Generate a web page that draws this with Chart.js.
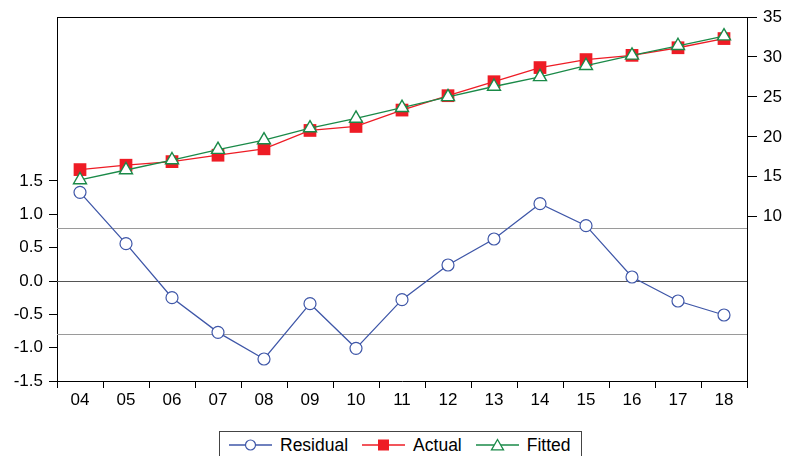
<!DOCTYPE html>
<html>
<head>
<meta charset="utf-8">
<script src="https://cdn.jsdelivr.net/npm/chart.js@4.4.1/dist/chart.umd.min.js"></script>
<style>
  html, body { margin: 0; padding: 0; background: #fff; }
  #contenedor { position: relative; width: 788px; height: 456px; overflow: hidden; }
  #leyenda {
    position: absolute; left: 219px; top: 431px; height: 28px;
    box-sizing: border-box; border: 1px solid #444; background: #fff;
    display: flex; align-items: center; padding: 0 10px 0 9px;
    font: 17.5px 'Liberation Sans', Arial, sans-serif; color: #000;
  }
  #leyenda .item { display: flex; align-items: center; margin-right: 14px; }
  #leyenda .item:last-child { margin-right: 0; }
  #leyenda svg { margin-right: 8px; }
</style>
</head>
<body>
<div id="contenedor">
  <canvas id="grafico-residuos" width="788" height="456"></canvas>
  <div id="leyenda"></div>
</div>
<script>
// Datos
const years = ['04', '05', '06', '07', '08', '09', '10', '11', '12', '13', '14', '15', '16', '17', '18'];
const residual = [1.33, 0.56, -0.25, -0.77, -1.17, -0.34, -1.01, -0.28, 0.24, 0.63, 1.16, 0.83, 0.06, -0.30, -0.51];
const actual = [15.9, 16.45, 16.9, 17.7, 18.5, 20.8, 21.3, 23.35, 25.15, 26.9, 28.67, 29.67, 30.2, 31.15, 32.3];
const fitted = [14.6, 15.85, 17.1, 18.4, 19.6, 21.1, 22.3, 23.65, 25.0, 26.3, 27.5, 28.9, 30.2, 31.4, 32.6];
const leftTicks = [-1.5, -1.0, -0.5, 0.0, 0.5, 1.0, 1.5];
const rightTicks = [10, 15, 20, 25, 30, 35];
const bandLines = [0.79, -0.79];
const zeroLine = 0;

const FUENTE = "'Liberation Sans', Arial, sans-serif";
const AZUL = '#3f57a8';
const ROJO = '#ee1c25';
const VERDE = '#1a8a48';

/**
 * Dibuja las líneas de referencia y el marco superior
 */
const marcoYLineas = {
  id: 'marcoYLineas',
  beforeDatasetsDraw(chart) {
    const { ctx, chartArea: a, scales } = chart;
    const linea = (valor, color) => {
      const y = Math.round(scales.yRes.getPixelForValue(valor)) + 0.5;
      ctx.strokeStyle = color;
      ctx.beginPath();
      ctx.moveTo(a.left, y);
      ctx.lineTo(a.right, y);
      ctx.stroke();
    };
    ctx.save();
    ctx.lineWidth = 1;
    bandLines.forEach(v => linea(v, '#9a9a9a'));
    linea(zeroLine, '#555555');
    ctx.restore();
  },
  afterDraw(chart) {
    const { ctx, chartArea: a } = chart;
    ctx.save();
    ctx.strokeStyle = '#000';
    ctx.lineWidth = 1;
    ctx.beginPath();
    ctx.moveTo(a.left, Math.round(a.top) + 0.5);
    ctx.lineTo(a.right, Math.round(a.top) + 0.5);
    ctx.stroke();
    ctx.restore();
  }
};

/**
 * Genera la leyenda en HTML a partir de los datasets
 * @param {Array} datasets - Series del gráfico
 */
function generarLeyenda(datasets) {
  const cont = document.getElementById('leyenda');
  const iconos = {
    circle: c => `<circle cx="21.5" cy="7" r="5" fill="#fff" stroke="${c}" stroke-width="1.2"/>`,
    rect: c => `<rect x="16" y="1.5" width="11" height="11" fill="${c}"/>`,
    triangle: c => `<polygon points="21.5,1.5 27.5,11.8 15.5,11.8" fill="#fff" stroke="${c}" stroke-width="1.3"/>`
  };
  cont.innerHTML = datasets.map(ds => `
    <span class="item">
      <svg width="43" height="14"><line x1="0" y1="7" x2="43" y2="7" stroke="${ds.borderColor}" stroke-width="1.3"/>${iconos[ds.pointStyle](ds.borderColor)}</svg>
      <span>${ds.label}</span>
    </span>`).join('');
}

/**
 * Genera el gráfico de residuos, valores reales y ajustados
 */
function generarGraficoResiduos() {
  const canvas = document.getElementById('grafico-residuos');
  if (!canvas) return;

  Chart.defaults.font.family = FUENTE;
  Chart.defaults.font.size = 17;
  Chart.defaults.color = '#000';

  const datasets = [
    {
      label: 'Residual',
      data: residual,
      yAxisID: 'yRes',
      borderColor: AZUL,
      backgroundColor: '#fff',
      borderWidth: 1.3,
      pointStyle: 'circle',
      pointRadius: 6,
      pointBorderWidth: 1.2,
      pointBackgroundColor: '#fff',
      order: 2
    },
    {
      label: 'Actual',
      data: actual,
      yAxisID: 'yAct',
      borderColor: ROJO,
      backgroundColor: ROJO,
      borderWidth: 1.3,
      pointStyle: 'rect',
      pointRadius: 9,
      pointBorderWidth: 0,
      pointBackgroundColor: ROJO,
      order: 1
    },
    {
      label: 'Fitted',
      data: fitted,
      yAxisID: 'yAct',
      borderColor: VERDE,
      backgroundColor: '#fff',
      borderWidth: 1.3,
      pointStyle: 'triangle',
      pointRadius: 7.5,
      pointBorderWidth: 1.4,
      pointBackgroundColor: '#fff',
      order: 0
    }
  ];

  new Chart(canvas, {
    type: 'line',
    data: { labels: years, datasets: datasets },
    plugins: [marcoYLineas],
    options: {
      responsive: false,
      animation: false,
      layout: { padding: { top: 17, left: 0, right: 0, bottom: 35 } },
      plugins: {
        legend: { display: false },
        tooltip: { enabled: false }
      },
      scales: {
        x: {
          type: 'category',
          offset: true,
          afterFit: s => { s.height = 40; },
          grid: { display: true, drawOnChartArea: false, drawTicks: true, tickLength: 7, color: '#000', offset: true },
          border: { display: true, color: '#000', width: 1 },
          ticks: { padding: 2, maxRotation: 0, autoSkip: false }
        },
        yRes: {
          type: 'linear',
          position: 'left',
          min: -1.5,
          max: 3.96,
          afterFit: s => { s.width = 57; },
          afterBuildTicks: s => { s.ticks = leftTicks.map(v => ({ value: v })); },
          grid: { display: true, drawOnChartArea: false, drawTicks: true, tickLength: 8, color: '#000' },
          border: { display: true, color: '#000', width: 1 },
          ticks: { padding: 6, callback: v => v.toFixed(1) }
        },
        yAct: {
          type: 'linear',
          position: 'right',
          min: -10.56,
          max: 35,
          afterFit: s => { s.width = 41; },
          afterBuildTicks: s => { s.ticks = rightTicks.map(v => ({ value: v })); },
          grid: { display: true, drawOnChartArea: false, drawTicks: true, tickLength: 10, color: '#000' },
          border: { display: true, color: '#000', width: 1 },
          ticks: { padding: 6, callback: v => String(v) }
        }
      }
    }
  });

  generarLeyenda(datasets);
}

generarGraficoResiduos();
</script>
</body>
</html>
